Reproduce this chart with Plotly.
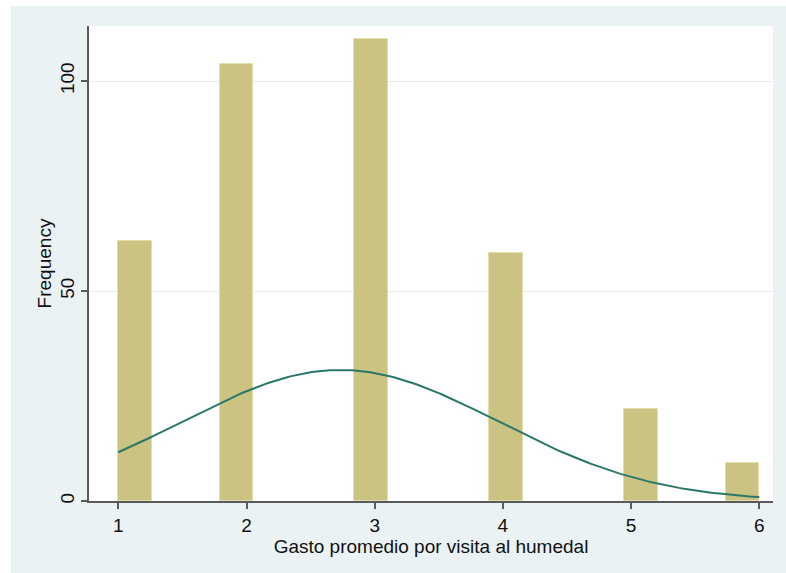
import math
import plotly.graph_objects as go

# Data
values = [1, 2, 3, 4, 5, 6]
frequencies = [62, 104, 110, 59, 22, 9]
n_bins = 19
x_min, x_max = 1, 6
y_ticks = [0, 50, 100]
x_ticks = [1, 2, 3, 4, 5, 6]
x_title = "Gasto promedio por visita al humedal"
y_title = "Frequency"

bin_w = (x_max - x_min) / n_bins
centers = []
for v in values:
    k = min(int((v - x_min) / bin_w), n_bins - 1)
    centers.append(x_min + (k + 0.5) * bin_w)

# normal density overlay (scaled to frequency), as in Stata's histogram ..., normal
N = sum(frequencies)
mean = sum(v * f for v, f in zip(values, frequencies)) / N
var = (sum(v * v * f for v, f in zip(values, frequencies)) - N * mean ** 2) / (N - 1)
sd = math.sqrt(var)
cx = [x_min + i * (x_max - x_min) / 200 for i in range(201)]
cy = [N * bin_w * math.exp(-0.5 * ((x - mean) / sd) ** 2) / (sd * math.sqrt(2 * math.pi)) for x in cx]

fig = go.Figure()
fig.add_trace(go.Bar(
    x=centers, y=frequencies, width=bin_w,
    marker=dict(color="#CAC381", line=dict(color="#E3DEAE", width=1)),
    showlegend=False, hoverinfo="x+y",
))
fig.add_trace(go.Scatter(
    x=cx, y=cy, mode="lines",
    line=dict(color="#2B7769", width=2),
    showlegend=False,
))

W, H = 786, 573
L, R, T, B = 89, 13, 26, 72
pw, ph = W - L - R, H - T - B

# outer light panel (Stata graph region)
fig.add_shape(
    type="rect", xref="paper", yref="paper", layer="below",
    x0=(11 - L) / pw, x1=(W - L) / pw,
    y0=(H - B - H) / ph, y1=(H - B - 6) / ph,
    fillcolor="#EAF2F3", line=dict(width=0),
)
# white plot region
fig.add_shape(
    type="rect", xref="paper", yref="paper", layer="below",
    x0=0, x1=1, y0=0, y1=1,
    fillcolor="white", line=dict(width=0),
)

fig.update_layout(
    width=W, height=H,
    margin=dict(l=L, r=R, t=T, b=B, pad=0),
    paper_bgcolor="white", plot_bgcolor="white",
    font=dict(family="Liberation Sans, Arial, sans-serif", size=19, color="#111"),
    bargap=0,
    xaxis=dict(
        range=[x_min + (L - 118.3) / 128.2, x_min + (W - R - 118.3) / 128.2],
        tickmode="array", tickvals=x_ticks, ticktext=[str(t) for t in x_ticks],
        showgrid=False, zeroline=False,
        showline=True, linecolor="#5a5a5a", linewidth=1.5,
        ticks="outside", ticklen=6, tickcolor="#5a5a5a", tickwidth=1.5,
        tickfont=dict(size=19),
        title=dict(text=x_title, font=dict(size=19), standoff=4),
    ),
    yaxis=dict(
        range=[0, 113.1],
        tickmode="array", tickvals=y_ticks, ticktext=[str(t) for t in y_ticks],
        tickangle=-90,
        showgrid=True, gridcolor="#E6EEF0", gridwidth=1,
        zeroline=False,
        showline=True, linecolor="#5a5a5a", linewidth=1.5,
        ticks="outside", ticklen=6, tickcolor="#5a5a5a", tickwidth=1.5,
        tickfont=dict(size=19),
        title=dict(text=y_title, font=dict(size=19), standoff=0),
    ),
)

fig.write_html(
    "out.html",
    config={"displayModeBar": False},
    post_script="document.body.style.margin='0px';document.body.style.overflow='hidden';",
)
